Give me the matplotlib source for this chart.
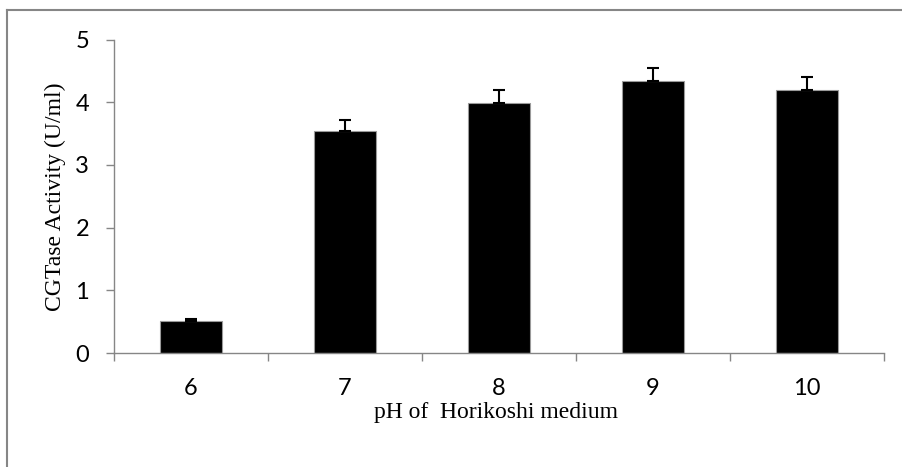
import matplotlib.pyplot as plt
from matplotlib.lines import Line2D

ph_levels = ["6", "7", "8", "9", "10"]
activity = [0.51, 3.54, 3.99, 4.34, 4.19]
activity_err = [0.03, 0.18, 0.21, 0.21, 0.22]

AXIS_GREY = "#868686"

fig = plt.figure(figsize=(9.02, 4.67), dpi=100)
ax = fig.add_axes([0.1264, 0.2441, 0.8536, 0.6713])

x = list(range(len(ph_levels)))
ax.bar(x, activity, width=0.40, color="black", edgecolor="#9a9a9a", linewidth=0.8,
       yerr=[[0] * len(activity_err), activity_err],
       error_kw=dict(ecolor="black", elinewidth=1.5, capsize=4.5, capthick=1.5))

ax.set_xlim(-0.5, len(ph_levels) - 0.5)
ax.set_ylim(0, 5)
ax.set_yticks(range(6))

# category boundaries get tick marks, labels sit in the middle
ax.set_xticks([i - 0.5 for i in range(len(ph_levels) + 1)])
ax.set_xticklabels([])
ax.set_xticks(x, minor=True)
ax.set_xticklabels(ph_levels, minor=True, fontsize=17, family="Lato")
ax.tick_params(axis="x", which="minor", length=0, pad=18)
ax.tick_params(axis="x", which="major", length=6, width=1, color=AXIS_GREY, direction="out")
ax.tick_params(axis="y", length=6, width=1, color=AXIS_GREY, labelsize=17, pad=12)
for lab in ax.get_yticklabels():
    lab.set_family("Lato")

for side in ["top", "right"]:
    ax.spines[side].set_visible(False)
for side in ["left", "bottom"]:
    ax.spines[side].set_color(AXIS_GREY)
    ax.spines[side].set_linewidth(1)

ax.set_ylabel("CGTase Activity (U/ml)", family="Liberation Serif", fontsize=17)
ax.set_xlabel("pH of  Horikoshi medium", family="Liberation Serif", fontsize=17)
ax.yaxis.set_label_coords(-0.063, 0.4976)
ax.xaxis.set_label_coords(0.4955, -0.155)

# outer chart frame: only its top and left edges fall inside the image
fig.add_artist(Line2D([7 / 902, 1.0], [1 - 9.5 / 467] * 2, transform=fig.transFigure,
                      color=AXIS_GREY, linewidth=1.5))
fig.add_artist(Line2D([7 / 902] * 2, [0.0, 1 - 9.5 / 467], transform=fig.transFigure,
                      color=AXIS_GREY, linewidth=1.5))

fig.savefig("out.png", dpi=100)
